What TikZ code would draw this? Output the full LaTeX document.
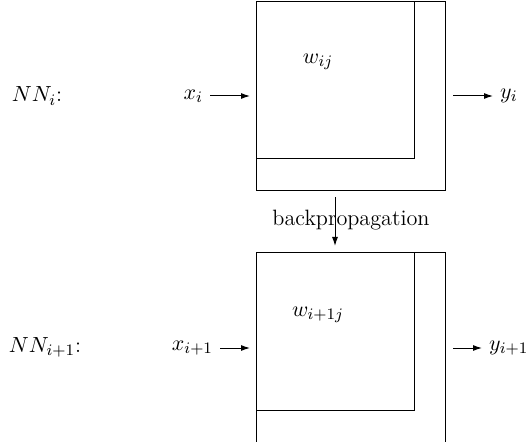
\documentclass[tikz,border=0pt]{standalone}
\usetikzlibrary{arrows.meta}
\begin{document}
\begin{tikzpicture}[x=0.5pt,y=-0.5pt,
  font=\fontsize{11.1}{13.5}\selectfont,
  line/.style={line width=0.5pt},
  arr/.style={line width=0.5pt,-{Latex[length=4.5pt,width=3pt]}},
  lbl/.style={inner sep=3.3pt},
  sq/.style={draw,line width=0.5pt,inner sep=0pt,outer sep=0pt,anchor=north west}]
\useasboundingbox (0,0) rectangle (528,442);
% top network
\node[sq,minimum width=94.5pt,minimum height=94.5pt] (box1) at (256,1.5) {};
\node[sq,minimum width=79pt,minimum height=78.5pt] (in1box) at (256,1.5) {};
\node[lbl] (nni) at (37,96) {$NN_i$:};
\node[lbl,anchor=east] (xi) at (210,96) {$x_i$};
\node[lbl] (wij) at (318,62) {$w_{ij}$};
\node[lbl,anchor=west] (yi) at (493,96) {$y_i$};
\coordinate (in1) at (250,96);
\coordinate (out1) at (453,96);
\draw[arr] (xi.east) -- (in1);
\draw[arr] (out1) -- (yi.west);
% backpropagation
\node[lbl] (bp) at (351,220) {backpropagation};
\coordinate (bps) at (335,197);
\coordinate (bpe) at (335,246);
\draw[arr] (bps) -- (bpe);
% bottom network
\coordinate (b1) at (256,443);
\coordinate (b2) at (256,253);
\coordinate (b3) at (445,253);
\coordinate (b4) at (445,443);
\draw[line] (b1) -- (b2) -- (b3) -- (b4);
\node[sq,minimum width=79pt,minimum height=78.5pt] (in2box) at (256,253) {};
\node[lbl] (nni1) at (45,347) {$NN_{i+1}$:};
\node[lbl,anchor=east] (xi1) at (220,348) {$x_{i+1}$};
\node[lbl] (wi1j) at (318,315) {$w_{i+1j}$};
\node[lbl,anchor=west] (yi1) at (482,348) {$y_{i+1}$};
\coordinate (in2) at (250,348);
\coordinate (out2) at (453,348);
\draw[arr] (xi1.east) -- (in2);
\draw[arr] (out2) -- (yi1.west);
\end{tikzpicture}
\end{document}
